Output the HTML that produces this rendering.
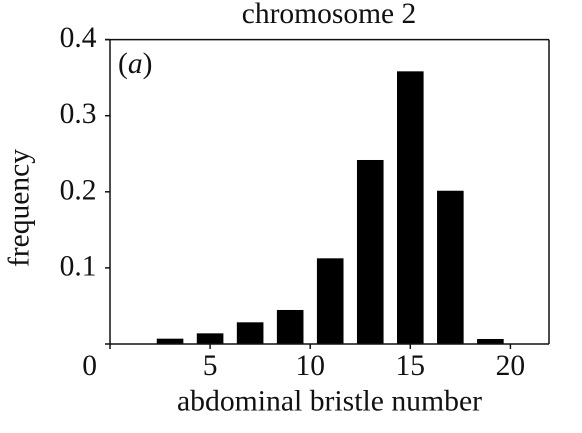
<!DOCTYPE html>
<html>
<head>
<meta charset="utf-8">
<title>chromosome 2</title>
<style>
html,body{margin:0;padding:0;background:#fff;}
svg{display:block;font-family:"Liberation Serif",serif;fill:#111;}
</style>
</head>
<body>
<svg id="chart" width="582" height="433" viewBox="0 0 582 433" xmlns="http://www.w3.org/2000/svg">
  <rect width="582" height="433" fill="#fff"/>
  <text x="329" y="23" text-anchor="middle" font-size="29.5">chromosome 2</text>
  <text x="118" y="73" font-size="29.5">(<tspan font-style="italic">a</tspan>)</text>
  <text transform="translate(28.5 208) rotate(-90)" text-anchor="middle" font-size="29.5">frequency</text>
  <text x="329.5" y="410.5" text-anchor="middle" font-size="29.7">abdominal bristle number</text>
  <g id="bars"></g>
  <g id="axes"></g>
</svg>
<script>
const categories = [3, 5, 7, 9, 11, 13, 15, 17, 19];
const frequencies = [0.007, 0.014, 0.0285, 0.0447, 0.1126, 0.2418, 0.3583, 0.2014, 0.0066];
const xTicks = [5, 10, 15, 20];
const yTicks = [0.1, 0.2, 0.3, 0.4];
const yTickLabels = ["0.1", "0.2", "0.3", "0.4"];

const NS = "http://www.w3.org/2000/svg";
const X0 = 110, PER_X = 20.02, RIGHT = 549;
const Y0 = 344, PER_Y = 761;
const BAR_W = 26.6;
function xScale(v) { return X0 + v * PER_X; }
function yScale(v) { return Y0 - v * PER_Y; }
const TOP = yScale(0.4);

const barsG = document.getElementById("bars");
const axesG = document.getElementById("axes");

categories.forEach(function (c, i) {
  const r = document.createElementNS(NS, "rect");
  r.setAttribute("x", xScale(c) - BAR_W / 2);
  r.setAttribute("y", yScale(frequencies[i]));
  r.setAttribute("width", BAR_W);
  r.setAttribute("height", Y0 - yScale(frequencies[i]));
  r.setAttribute("fill", "#000");
  
  
  barsG.appendChild(r);
});

function line(x1, y1, x2, y2, parent) {
  const l = document.createElementNS(NS, "line");
  l.setAttribute("x1", x1);
  l.setAttribute("y1", y1);
  l.setAttribute("x2", x2);
  l.setAttribute("y2", y2);
  l.setAttribute("stroke", "#111");
  l.setAttribute("stroke-width", "1.5");
  parent.appendChild(l);
  return l;
}
function label(x, y, str, anchor, parent) {
  const t = document.createElementNS(NS, "text");
  t.setAttribute("x", x);
  t.setAttribute("y", y);
  t.setAttribute("text-anchor", anchor);
  t.setAttribute("font-size", "29.5");
  t.textContent = str;
  parent.appendChild(t);
  return t;
}

const leftAxis = line(X0, TOP, X0, Y0 + 5, axesG);


const bottomAxis = line(X0 - 5, Y0, RIGHT, Y0, axesG);


const topLine = line(X0 - 5, TOP, RIGHT, TOP, axesG);


const rightLine = line(RIGHT, TOP, RIGHT, Y0, axesG);



xTicks.forEach(function (v) {
  const tick = line(xScale(v), Y0, xScale(v), Y0 + 5, axesG);
  
  
  const t = label(xScale(v), 375, String(v), "middle", axesG);
  
  
});
yTicks.forEach(function (v, i) {
  const tick = line(X0 - 5, yScale(v), X0, yScale(v), axesG);
  
  
  const t = label(96.5, yScale(v) + 7.5, yTickLabels[i], "end", axesG);
  
  
});
const zero = label(97, 375, "0", "end", axesG);


</script>
</body>
</html>
